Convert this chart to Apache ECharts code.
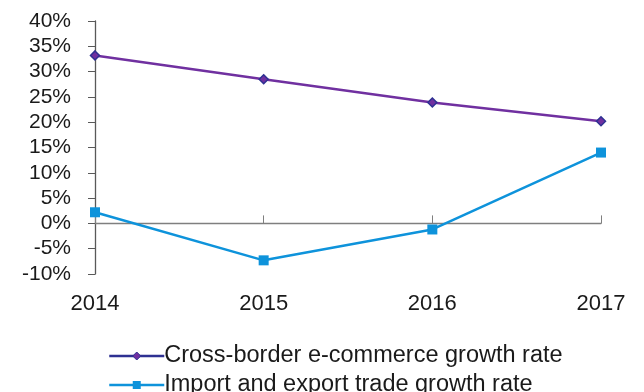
<!DOCTYPE html>
<html>
<head>
    <meta charset="utf-8">
    <title>growth rates</title>
    <script src="https://cdn.jsdelivr.net/npm/echarts@6/dist/echarts.min.js"></script>
    <style>
        html, body { margin: 0; padding: 0; background: #fff; }
    </style>
</head>
<body>
<div id="main" style="width: 644px;height:392px;"></div>

<script>
    // data
    var years = ['2014', '2015', '2016', '2017'];
    var crossBorder = [33.2, 28.5, 23.9, 20.2];
    var importExport = [2.2, -7.3, -1.2, 14.0];
    var seriesNames = ['Cross-border e-commerce growth rate', 'Import and export trade growth rate'];

    var font = 'Liberation Sans, Arial, sans-serif';

    function legendBox(name, top, lineColor, item) {
        return {
            orient: 'vertical',
            left: 103,
            top: top,
            itemWidth: 55,
            itemHeight: 10,
            textStyle: { fontSize: 23.5, color: '#1a1a1a', fontFamily: font, padding: [0, 0, 0, -5] },
            data: [{
                name: name,
                lineStyle: { color: lineColor, width: 2.5 },
                itemStyle: item
            }]
        };
    }

    var option = {
        backgroundColor: '#fff',
        animation: false,
        grid: { left: 95, right: 43, top: 21, bottom: 118 },
        xAxis: [{
            type: 'category',
            data: years,
            boundaryGap: false,
            position: 'bottom',
            axisLine: { show: false, onZero: false },
            axisTick: { show: false },
            axisLabel: { fontSize: 22, color: '#1a1a1a', fontFamily: font, margin: 19 }
        }, {
            type: 'category',
            data: years,
            boundaryGap: false,
            axisLine: { show: true, onZero: true, lineStyle: { color: '#7f7f7f', width: 1.3 } },
            axisTick: { show: true, length: 8, lineStyle: { color: '#7f7f7f' } },
            axisLabel: { show: false }
        }],
        yAxis: {
            type: 'value',
            min: -10,
            max: 40,
            interval: 5,
            axisLine: { show: true, lineStyle: { color: '#595959', width: 1.3 } },
            axisTick: { show: true, length: 7, lineStyle: { color: '#595959' } },
            splitLine: { show: false },
            axisLabel: { formatter: '{value}%', fontSize: 21, color: '#1a1a1a', fontFamily: font, margin: 24 }
        },
        legend: [
            legendBox(seriesNames[0], 339, '#2E3192', { color: '#7030A0', borderColor: '#2E3192', borderWidth: 1 }),
            legendBox(seriesNames[1], 368, '#0E93DB', { color: '#0E93DB' })
        ],
        series: [{
            name: seriesNames[0],
            type: 'line',
            data: crossBorder,
            symbol: 'diamond',
            symbolSize: 9,
            lineStyle: { color: '#7030A0', width: 2.5 },
            itemStyle: { color: '#7030A0', borderColor: '#2E3192', borderWidth: 1.5 },
            z: 3
        }, {
            name: seriesNames[1],
            type: 'line',
            data: importExport,
            symbol: 'rect',
            symbolSize: 10,
            lineStyle: { color: '#0E93DB', width: 2.5 },
            itemStyle: { color: '#0E93DB' },
            z: 3
        }]
    };

    echarts.init(document.getElementById('main')).setOption(option);
</script>
</body>
</html>
